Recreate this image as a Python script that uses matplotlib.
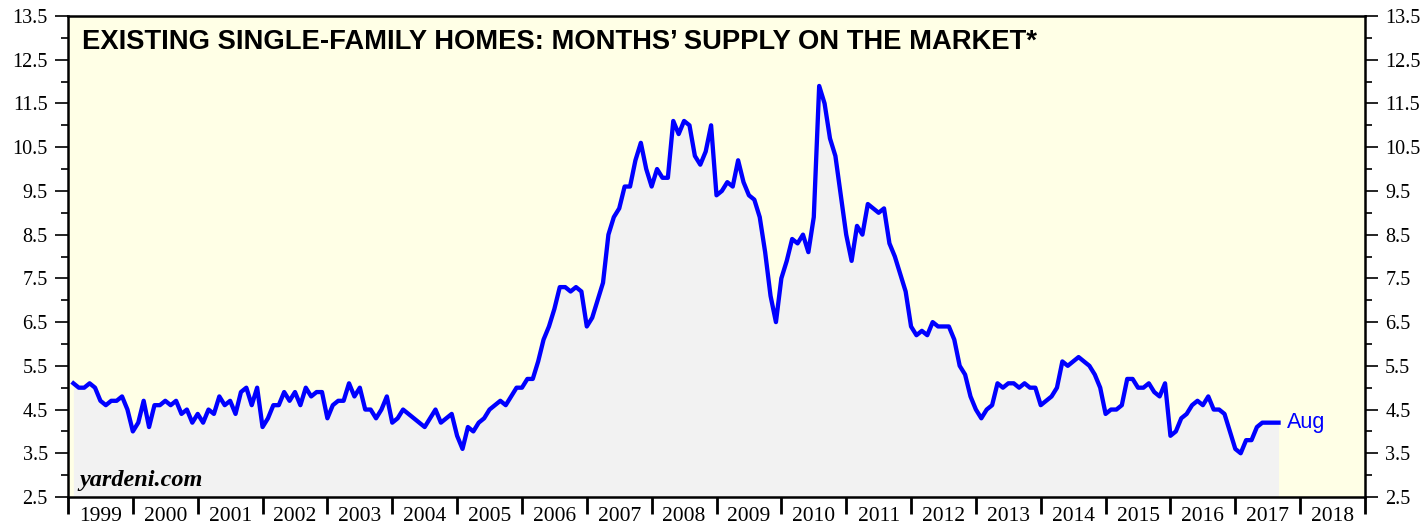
import numpy as np
import matplotlib
matplotlib.use("Agg")
import matplotlib.pyplot as plt
from matplotlib.ticker import FixedLocator, NullFormatter

# months' supply of existing single-family homes, one list per year (Jan..Dec)
supply_1999 = [5.1, 5.0, 5.0, 5.1, 5.0, 4.7, 4.6, 4.7, 4.7, 4.8, 4.5, 4.0]
supply_2000 = [4.2, 4.7, 4.1, 4.6, 4.6, 4.7, 4.6, 4.7, 4.4, 4.5, 4.2, 4.4]
supply_2001 = [4.2, 4.5, 4.4, 4.8, 4.6, 4.7, 4.4, 4.9, 5.0, 4.6, 5.0, 4.1]
supply_2002 = [4.3, 4.6, 4.6, 4.9, 4.7, 4.9, 4.6, 5.0, 4.8, 4.9, 4.9, 4.3]
supply_2003 = [4.6, 4.7, 4.7, 5.1, 4.8, 5.0, 4.5, 4.5, 4.3, 4.5, 4.8, 4.2]
supply_2004 = [4.3, 4.5, 4.4, 4.3, 4.2, 4.1, 4.3, 4.5, 4.2, 4.3, 4.4, 3.9]
supply_2005 = [3.6, 4.1, 4.0, 4.2, 4.3, 4.5, 4.6, 4.7, 4.6, 4.8, 5.0, 5.0]
supply_2006 = [5.2, 5.2, 5.6, 6.1, 6.4, 6.8, 7.3, 7.3, 7.2, 7.3, 7.2, 6.4]
supply_2007 = [6.6, 7.0, 7.4, 8.5, 8.9, 9.1, 9.6, 9.6, 10.2, 10.6, 10.0, 9.6]
supply_2008 = [10.0, 9.8, 9.8, 11.1, 10.8, 11.1, 11.0, 10.3, 10.1, 10.4, 11.0, 9.4]
supply_2009 = [9.5, 9.7, 9.6, 10.2, 9.7, 9.4, 9.3, 8.9, 8.1, 7.1, 6.5, 7.5]
supply_2010 = [7.9, 8.4, 8.3, 8.5, 8.1, 8.9, 11.9, 11.5, 10.7, 10.3, 9.4, 8.5]
supply_2011 = [7.9, 8.7, 8.5, 9.2, 9.1, 9.0, 9.1, 8.3, 8.0, 7.6, 7.2, 6.4]
supply_2012 = [6.2, 6.3, 6.2, 6.5, 6.4, 6.4, 6.4, 6.1, 5.5, 5.3, 4.8, 4.5]
supply_2013 = [4.3, 4.5, 4.6, 5.1, 5.0, 5.1, 5.1, 5.0, 5.1, 5.0, 5.0, 4.6]
supply_2014 = [4.7, 4.8, 5.0, 5.6, 5.5, 5.6, 5.7, 5.6, 5.5, 5.3, 5.0, 4.4]
supply_2015 = [4.5, 4.5, 4.6, 5.2, 5.2, 5.0, 5.0, 5.1, 4.9, 4.8, 5.1, 3.9]
supply_2016 = [4.0, 4.3, 4.4, 4.6, 4.7, 4.6, 4.8, 4.5, 4.5, 4.4, 4.0, 3.6]
supply_2017 = [3.5, 3.8, 3.8, 4.1, 4.2, 4.2, 4.2, 4.2]

years = list(range(1999, 2019))
y_ticks = [2.5, 3.5, 4.5, 5.5, 6.5, 7.5, 8.5, 9.5, 10.5, 11.5, 12.5, 13.5]

values = np.array(supply_1999 + supply_2000 + supply_2001 + supply_2002 + supply_2003
                  + supply_2004 + supply_2005 + supply_2006 + supply_2007 + supply_2008
                  + supply_2009 + supply_2010 + supply_2011 + supply_2012 + supply_2013
                  + supply_2014 + supply_2015 + supply_2016 + supply_2017)
# monthly points plotted at month end
dates = 1999 + (np.arange(len(values)) + 1) / 12.0

fig = plt.figure(figsize=(14.26, 5.26), dpi=100)
ax = fig.add_axes([68 / 1426, 1 - 497 / 526, (1365 - 68) / 1426, (497 - 16) / 526])
ax.set_facecolor("#ffffe6")

ax.fill_between(dates, values, 2.5, color="#f2f2f2", lw=0, zorder=1)
ax.plot(dates, values, color="#0000ff", lw=3.1, solid_joinstyle="round", zorder=3)

ax.set_xlim(1999, 2019)
ax.set_ylim(2.5, 13.5)

for s in ax.spines.values():
    s.set_linewidth(1.8)

serif = "Liberation Serif"
ax.set_yticks(y_ticks)
ax.set_yticklabels([f"{v:.1f}" for v in y_ticks], family=serif, fontsize=14.5)
ax.yaxis.set_minor_locator(FixedLocator(np.arange(3.0, 13.5, 1.0)))
ax.tick_params(axis="y", which="both", left=True, right=True, labelleft=True, labelright=True,
               direction="out", width=1.2, pad=5)
ax.tick_params(axis="y", which="major", length=9.5)
ax.tick_params(axis="y", which="minor", length=5)

ax.set_xticks(range(1999, 2020))
ax.xaxis.set_major_formatter(NullFormatter())
ax.set_xticks([y + 0.5 for y in years], minor=True)
ax.set_xticklabels([str(y) for y in years], minor=True, family=serif, fontsize=15.5)
ax.tick_params(axis="x", which="major", direction="out", length=12, width=2)
ax.tick_params(axis="x", which="minor", length=0, pad=7)

ax.text(0.0108, 0.974, "EXISTING SINGLE-FAMILY HOMES: MONTHS\u2019 SUPPLY ON THE MARKET*",
        transform=ax.transAxes, family="Liberation Sans", weight="bold", fontsize=19.7,
        va="top", ha="left")
ax.text(0.009, 0.012, "yardeni.com", transform=ax.transAxes, family=serif,
        weight="bold", style="italic", fontsize=17.5, va="bottom", ha="left")
ax.annotate("Aug", xy=(dates[-1], values[-1]), xytext=(6, 0), textcoords="offset points",
            color="#0000ff", family="Liberation Sans", fontsize=15.5, va="center", ha="left")

fig.savefig("out.png", dpi=100)
